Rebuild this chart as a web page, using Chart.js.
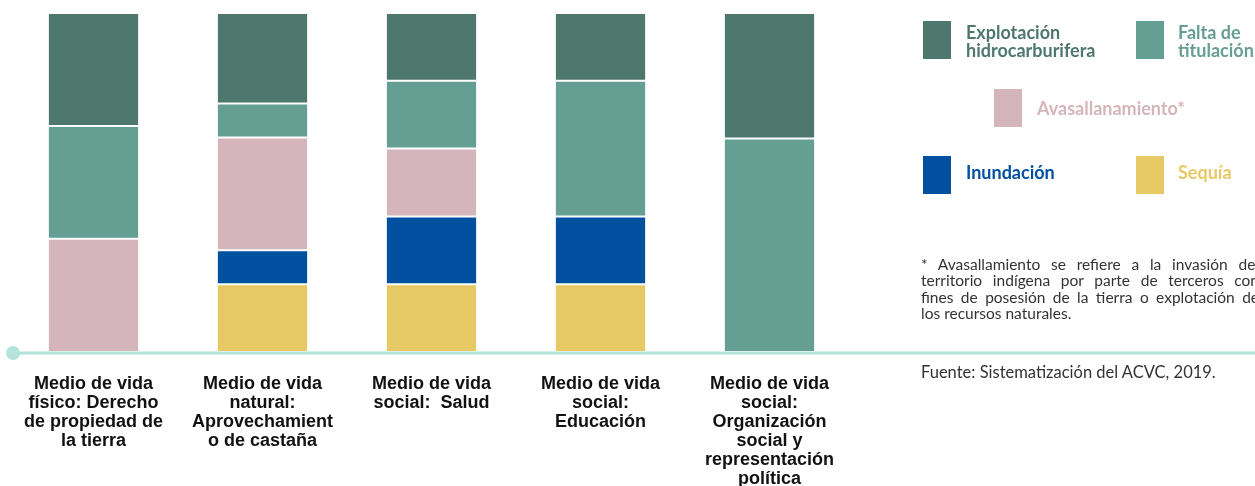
<!DOCTYPE html>
<html>
<head>
<meta charset="utf-8">
<script src="https://cdn.jsdelivr.net/npm/chart.js@4"></script>
<style>
  html, body { margin: 0; padding: 0; background: #fff; overflow: hidden; }
  #wrap { position: relative; width: 1255px; height: 486px; overflow: hidden; }
  #c { position: absolute; left: 0; top: 0; }
  .sw { position: absolute; width: 28px; height: 38px; }
  .lt { position: absolute; font-family: "Lato", "DejaVu Sans", sans-serif; font-weight: bold; font-size: 18px; line-height: 18px; white-space: nowrap; }
  .note { position: absolute; font-family: "Lato", "DejaVu Sans", sans-serif; font-size: 15.5px; line-height: 16.3px; color: #333; white-space: nowrap; }
  .note div { width: 338px; text-align: justify; text-align-last: justify; }
  .note div.last { text-align-last: left; }
</style>
</head>
<body>
<div id="wrap">
  <canvas id="c" width="1255" height="486"></canvas>

  <div class="sw" style="left:923px;top:21px;background:#4e776d"></div>
  <div class="lt" style="left:966px;top:23px;color:#4e776d">Explotación<br>hidrocarburifera</div>
  <div class="sw" style="left:1136px;top:21px;background:#659e92"></div>
  <div class="lt" style="left:1178px;top:23px;color:#659e92">Falta de<br>titulación</div>
  <div class="sw" style="left:994px;top:89px;background:#d4b5bb"></div>
  <div class="lt" style="left:1037px;top:99px;color:#d4b5bb">Avasallanamiento*</div>
  <div class="sw" style="left:923px;top:156px;background:#0050a0"></div>
  <div class="lt" style="left:966px;top:163px;color:#0050a0">Inundación</div>
  <div class="sw" style="left:1136px;top:156px;background:#e6c965"></div>
  <div class="lt" style="left:1178px;top:163px;color:#e6c965">Sequía</div>

  <div class="note" style="left:921px;top:256px">
    <div>* Avasallamiento se refiere a la invasión del</div>
    <div>territorio indígena por parte de terceros con</div>
    <div>fines de posesión de la tierra o explotación de</div>
    <div class="last">los recursos naturales.</div>
  </div>
  <div class="note" style="left:921px;top:364px;font-size:16.5px">Fuente: Sistematización del ACVC, 2019.</div>
</div>
<script>
const categorias = [
  ["Medio de vida", "físico: Derecho", "de propiedad de", "la tierra"],
  ["Medio de vida", "natural:", "Aprovechamient", "o de castaña"],
  ["Medio de vida", "social:  Salud"],
  ["Medio de vida", "social:", "Educación"],
  ["Medio de vida", "social:", "Organización", "social y", "representación", "política"]
];
// porcentajes por medio de vida (se apilan desde abajo)
const sequia = [null, 20, 20, 20, null];
const inundacion = [null, 10, 20, 20, null];
const avasallamiento = [33.4, 33.3, 20, null, null];
const faltaTitulacion = [33.3, 10, 20, 40, 63];
const explotacion = [33.3, 26.7, 20, 20, 37];

// linea base con circulo y etiquetas de categoria
const baseLine = {
  id: "baseLine",
  afterDatasetsDraw(chart) {
    const ctx = chart.ctx;
    const y = chart.scales.y.getPixelForValue(0) + 1;
    ctx.save();
    ctx.strokeStyle = "#b3e3da";
    ctx.lineWidth = 3;
    ctx.beginPath();
    ctx.moveTo(13, y);
    ctx.lineTo(chart.width, y);
    ctx.stroke();
    ctx.fillStyle = "#b3e3da";
    ctx.beginPath();
    ctx.arc(13, y, 7, 0, Math.PI * 2);
    ctx.fill();

    ctx.fillStyle = "#111";
    ctx.font = "bold 18px 'Liberation Sans Narrow', 'Liberation Sans', sans-serif";
    ctx.textAlign = "center";
    ctx.textBaseline = "middle";
    categorias.forEach((lines, i) => {
      const x = chart.scales.x.getPixelForValue(i);
      lines.forEach((t, j) => ctx.fillText(t, x, 384 + j * 19));
    });
    ctx.restore();
  }
};

const ds = (label, data, color) => ({
  label: label,
  data: data,
  backgroundColor: color,
  borderColor: "#ffffff",
  borderWidth: 1,
  borderSkipped: false,
  barPercentage: 0.9,
  categoryPercentage: 0.6
});

new Chart(document.getElementById("c"), {
  type: "bar",
  data: {
    labels: categorias.map((l) => l.join(" ")),
    datasets: [
      ds("Sequía", sequia, "#e6c965"),
      ds("Inundación", inundacion, "#0050a0"),
      ds("Avasallamiento", avasallamiento, "#d4b5bb"),
      ds("Falta de titulación", faltaTitulacion, "#659e92"),
      ds("Explotación hidrocarburifera", explotacion, "#4e776d")
    ]
  },
  options: {
    responsive: false,
    animation: false,
    layout: { padding: { left: 9, right: 401, top: 13, bottom: 134 } },
    scales: {
      x: { stacked: true, display: false },
      y: { stacked: true, display: false, min: 0, max: 100 }
    },
    plugins: {
      legend: { display: false },
      tooltip: { enabled: false }
    }
  },
  plugins: [baseLine]
});
</script>
</body>
</html>
